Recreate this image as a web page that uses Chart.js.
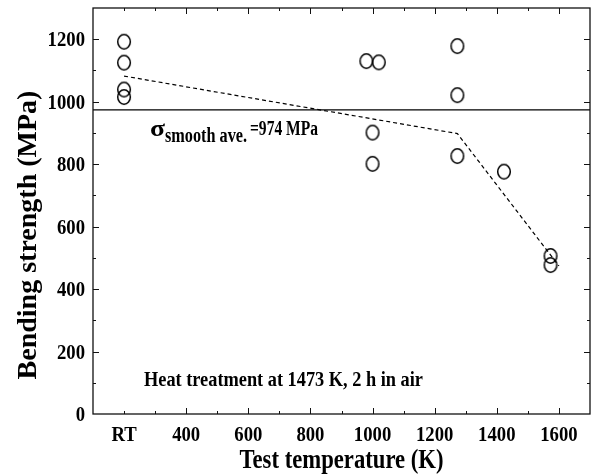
<!DOCTYPE html>
<html>
<head>
<meta charset="utf-8">
<script src="https://cdn.jsdelivr.net/npm/chart.js@4"></script>
<style>
  html, body { margin: 0; padding: 0; background: #fff; }
  canvas { display: block; }
</style>
</head>
<body>
<canvas id="chart" width="598" height="476"></canvas>
<script>
// ---- data ----
// RT specimens are plotted at the 200 K position on the axis
const testTemp = [200, 200, 200, 200, 980, 1020, 1000, 1000, 1273, 1273, 1273, 1423, 1573, 1573];
const bendStrength = [1192, 1125, 1039, 1015, 1130, 1126, 901, 801, 1178, 1021, 826, 776, 506, 477];

const trendTemp = [200, 1273, 1600];
const trendStrength = [1082, 898, 474];

const smoothAve = 974;

const xLabelValues = [200, 400, 600, 800, 1000, 1200, 1400, 1600];
const xLabels = ['RT', '400', '600', '800', '1000', '1200', '1400', '1600'];
const yLabelValues = [0, 200, 400, 600, 800, 1000, 1200];

const FONT = '"Liberation Serif", "Times New Roman", serif';

// draw bold serif text squeezed horizontally by sx (or fitted to a width)
function drawText(ctx, s, x, y, size, sx, align, fitWidth) {
    ctx.save();
    ctx.font = 'bold ' + size + 'px ' + FONT;
    ctx.textAlign = 'left';
    ctx.textBaseline = 'alphabetic';
    const raw = ctx.measureText(s).width;
    if (fitWidth) sx = fitWidth / raw;
    const w = raw * sx;
    let x0 = x;
    if (align === 'center') x0 = x - w / 2;
    else if (align === 'right') x0 = x - w;
    ctx.translate(x0, y);
    ctx.scale(sx, 1);
    ctx.fillStyle = '#000';
    ctx.fillText(s, 0, 0);
    ctx.restore();
}

// hollow, slightly tall circle marker
function makeMarker() {
    const c = document.createElement('canvas');
    c.width = 18; c.height = 20;
    const g = c.getContext('2d');
    g.strokeStyle = '#000';
    g.lineWidth = 1.5;
    g.beginPath();
    g.ellipse(9, 10, 6.3, 7.2, 0, 0, Math.PI * 2);
    g.stroke();
    return c;
}

const framePlugin = {
    id: 'frame',
    afterDatasetsDraw(chart) {
        const { ctx, chartArea: a, scales: { x, y } } = chart;
        ctx.save();
        ctx.strokeStyle = '#111';
        ctx.lineWidth = 1.3;
        ctx.strokeRect(a.left, a.top, a.right - a.left, a.bottom - a.top);

        // inward ticks on all four sides
        ctx.lineWidth = 1;
        ctx.beginPath();
        x.ticks.forEach(t => {
            const v = t.value;
            if (v <= x.min || v >= x.max) return;
            const px = Math.round(x.getPixelForValue(v)) + 0.5;
            const len = (v % 200 === 0 && v >= 400) ? 6 : 3;
            ctx.moveTo(px, a.bottom); ctx.lineTo(px, a.bottom - len);
            ctx.moveTo(px, a.top); ctx.lineTo(px, a.top + len);
        });
        y.ticks.forEach(t => {
            const v = t.value;
            if (v <= y.min || v >= y.max) return;
            const py = Math.round(y.getPixelForValue(v)) + 0.5;
            const len = (v % 200 === 0) ? 6 : 3;
            ctx.moveTo(a.left, py); ctx.lineTo(a.left + len, py);
            ctx.moveTo(a.right, py); ctx.lineTo(a.right - len, py);
        });
        ctx.stroke();
        ctx.restore();

        // tick labels
        xLabelValues.forEach((v, i) => {
            drawText(ctx, xLabels[i], x.getPixelForValue(v), a.bottom + 27, 22, 0.85, 'center');
        });
        yLabelValues.forEach(v => {
            drawText(ctx, String(v), a.left - 8, y.getPixelForValue(v) + 7, 22, 0.85, 'right');
        });

        // axis titles
        drawText(ctx, 'Test temperature (K)', (a.left + a.right) / 2, 468, 27, 0.84, 'center');
        ctx.save();
        ctx.translate(36, 235);
        ctx.rotate(-Math.PI / 2);
        drawText(ctx, 'Bending strength (MPa)', 0, 0, 28, 1, 'center');
        ctx.restore();

        // annotations
        drawText(ctx, '\u03c3', 150, 136, 24, 1, 'left', 15);
        drawText(ctx, 'smooth ave.', 165, 142, 20, 1, 'left', 82);
        drawText(ctx, '=974 MPa', 250, 135, 20, 1, 'left', 68);
        drawText(ctx, 'Heat treatment at 1473 K, 2 h in air', 144, 386, 22, 1, 'left', 279);
    }
};

const marker = makeMarker();

new Chart(document.getElementById('chart'), {
    type: 'scatter',
    data: {
        datasets: [
            {
                label: 'Bending strength',
                data: testTemp.map((t, i) => ({ x: t, y: bendStrength[i] })),
                pointStyle: marker,
                pointRadius: 7,
                showLine: false
            },
            {
                label: 'Trend',
                data: trendTemp.map((t, i) => ({ x: t, y: trendStrength[i] })),
                showLine: true,
                borderColor: '#000',
                borderWidth: 1.2,
                borderDash: [4, 3],
                pointRadius: 0,
                fill: false
            },
            {
                label: 'Smooth average',
                data: [{ x: 100, y: smoothAve }, { x: 1700, y: smoothAve }],
                showLine: true,
                borderColor: '#000',
                borderWidth: 1.2,
                pointRadius: 0,
                fill: false
            }
        ]
    },
    options: {
        responsive: false,
        animation: false,
        layout: { padding: { left: 93, right: 2, top: 7, bottom: 62 } },
        plugins: { legend: { display: false }, tooltip: { enabled: false } },
        scales: {
            x: {
                type: 'linear', min: 100, max: 1700,
                ticks: { stepSize: 100, display: false },
                grid: { display: false }, border: { display: false },
                afterFit(s) { s.height = 0; }
            },
            y: {
                type: 'linear', min: 0, max: 1300,
                ticks: { stepSize: 100, display: false },
                grid: { display: false }, border: { display: false },
                afterFit(s) { s.width = 0; }
            }
        }
    },
    plugins: [framePlugin]
});
</script>
</body>
</html>
